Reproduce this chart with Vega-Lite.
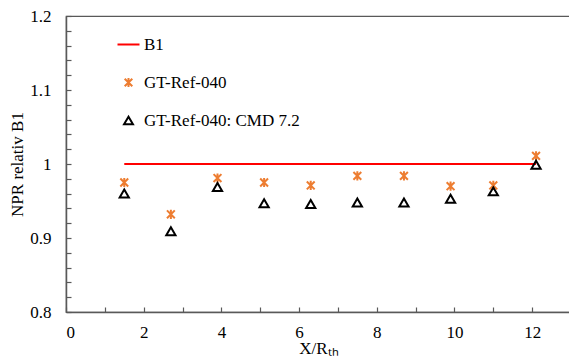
{
  "$schema": "https://vega.github.io/schema/vega-lite/v6.json",
  "width": 505,
  "height": 296,
  "autosize": {"type": "none"},
  "padding": {"left": 66, "top": 16, "right": 0, "bottom": 47},
  "background": "white",
  "config": {
    "view": {"stroke": "#595959", "strokeWidth": 1.2},
    "font": "Liberation Serif",
    "axis": {
      "domainColor": "#595959",
      "domainWidth": 1.5,
      "tickColor": "#595959",
      "tickWidth": 1.2,
      "tickSize": -5,
      "grid": false,
      "labelFont": "Liberation Serif",
      "labelFontSize": 17,
      "labelColor": "#000000",
      "titleFont": "Liberation Serif",
      "titleFontSize": 17,
      "titleFontWeight": "normal",
      "titleColor": "#000000"
    },
    "legend": {
      "labelFont": "Liberation Serif",
      "labelFontSize": 17,
      "labelColor": "#000000"
    }
  },
  "data": {
    "values": [
      {"x": 1.5, "y": 1.0, "series": "B1"},
      {"x": 12.1, "y": 1.0, "series": "B1"},
      {"x": 1.5, "y": 0.975, "series": "GT-Ref-040"},
      {"x": 2.7, "y": 0.932, "series": "GT-Ref-040"},
      {"x": 3.9, "y": 0.981, "series": "GT-Ref-040"},
      {"x": 5.1, "y": 0.975, "series": "GT-Ref-040"},
      {"x": 6.3, "y": 0.971, "series": "GT-Ref-040"},
      {"x": 7.5, "y": 0.984, "series": "GT-Ref-040"},
      {"x": 8.7, "y": 0.984, "series": "GT-Ref-040"},
      {"x": 9.9, "y": 0.970, "series": "GT-Ref-040"},
      {"x": 11.0, "y": 0.971, "series": "GT-Ref-040"},
      {"x": 12.1, "y": 1.011, "series": "GT-Ref-040"},
      {"x": 1.5, "y": 0.960, "series": "GT-Ref-040: CMD 7.2"},
      {"x": 2.7, "y": 0.909, "series": "GT-Ref-040: CMD 7.2"},
      {"x": 3.9, "y": 0.969, "series": "GT-Ref-040: CMD 7.2"},
      {"x": 5.1, "y": 0.947, "series": "GT-Ref-040: CMD 7.2"},
      {"x": 6.3, "y": 0.946, "series": "GT-Ref-040: CMD 7.2"},
      {"x": 7.5, "y": 0.948, "series": "GT-Ref-040: CMD 7.2"},
      {"x": 8.7, "y": 0.948, "series": "GT-Ref-040: CMD 7.2"},
      {"x": 9.9, "y": 0.953, "series": "GT-Ref-040: CMD 7.2"},
      {"x": 11.0, "y": 0.963, "series": "GT-Ref-040: CMD 7.2"},
      {"x": 12.1, "y": 0.999, "series": "GT-Ref-040: CMD 7.2"}
    ]
  },
  "encoding": {
    "x": {
      "field": "x",
      "type": "quantitative",
      "scale": {"domain": [0, 13], "nice": false, "zero": false},
      "axis": {
        "title": "X/Rₜₕ",
        "values": [0,1,2,3,4,5,6,7,8,9,10,11,12,13],
        "labelExpr": "datum.value % 2 === 0 && datum.value <= 12 ? '' + datum.value : ''",
        "labelPadding": 17,
        "titlePadding": 0
      }
    },
    "y": {
      "field": "y",
      "type": "quantitative",
      "scale": {"domain": [0.8, 1.2], "nice": false, "zero": false},
      "axis": {
        "title": "NPR relativ B1",
        "values": [0.8,0.82,0.84,0.86,0.88,0.9,0.92,0.94,0.96,0.98,1,1.02,1.04,1.06,1.08,1.1,1.12,1.14,1.16,1.18,1.2],
        "labelExpr": "abs(datum.value * 10 - round(datum.value * 10)) < 0.001 ? '' + datum.value : ''",
        "labelPadding": 20,
        "titlePadding": 3
      }
    },
    "color": {
      "field": "series",
      "type": "nominal",
      "scale": {
        "domain": ["B1", "GT-Ref-040", "GT-Ref-040: CMD 7.2"],
        "range": ["#FF0000", "#ED7D31", "#000000"]
      },
      "legend": {
        "title": null,
        "orient": "none",
        "legendX": 54,
        "legendY": 20,
        "labelFont": "Liberation Serif",
        "labelFontSize": 17,
        "labelColor": "#000000",
        "rowPadding": 20,
        "labelOffset": 7,
        "symbolStrokeWidth": 2,
        "symbolOpacity": 1,
        "encode": {
          "symbols": {
            "update": {
              "size": {"signal": "datum.value === 'B1' ? 484 : 80"},
              "strokeWidth": {"value": 2},
              "opacity": {"value": 1}
            }
          }
        }
      }
    }
  },
  "layer": [
    {
      "transform": [{"filter": "datum.series === 'B1'"}],
      "mark": {"type": "line", "strokeWidth": 2},
      "encoding": {}
    },
    {
      "transform": [{"filter": "datum.series !== 'B1'"}],
      "mark": {"type": "point", "filled": false, "strokeWidth": 2, "size": 85, "opacity": 1},
      "encoding": {
        "shape": {
          "field": "series",
          "type": "nominal",
          "scale": {
            "domain": ["B1", "GT-Ref-040", "GT-Ref-040: CMD 7.2"],
            "range": ["stroke", "M0,-1L0,1M-0.85,-0.85L0.85,0.85M-0.85,0.85L0.85,-0.85", "triangle-up"]
          },
          "legend": {
            "title": null,
            "orient": "none",
            "legendX": 54,
            "legendY": 20,
            "labelFont": "Liberation Serif",
            "labelFontSize": 17,
            "labelColor": "#000000"
          }
        }
      }
    }
  ]
}
